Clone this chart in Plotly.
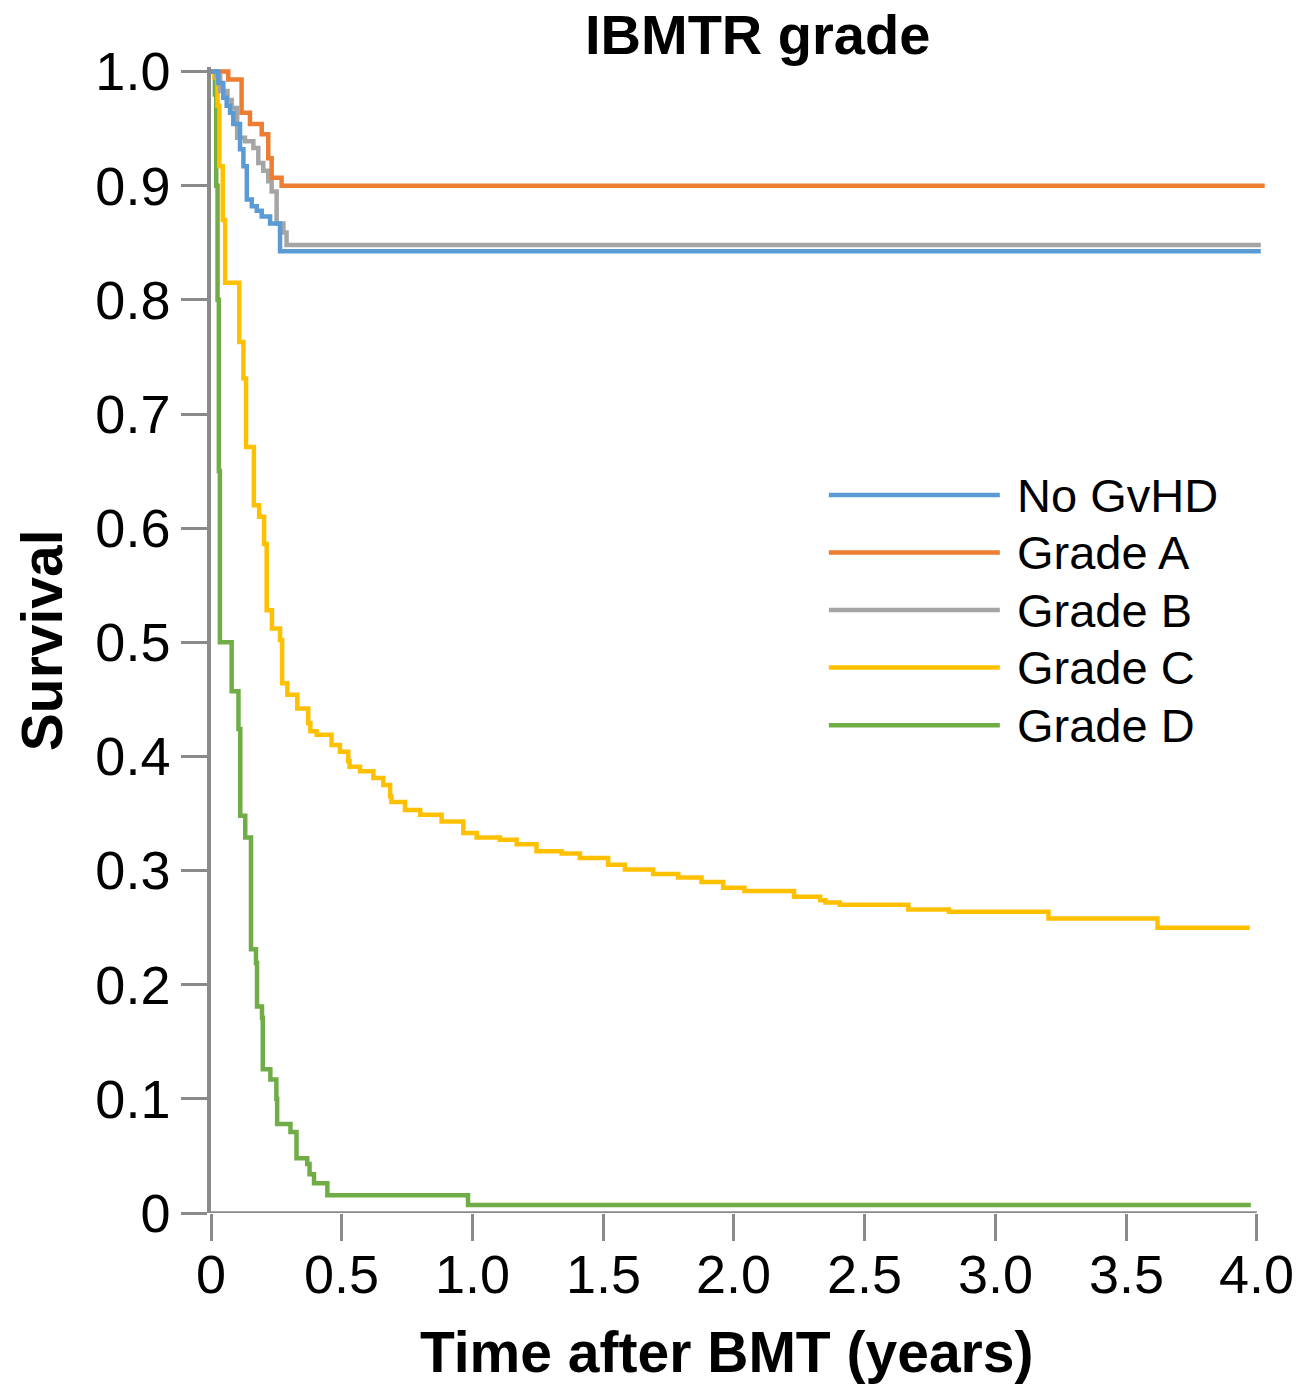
import plotly.graph_objects as go

# Kaplan-Meier step data: time (years) at which each step occurs, survival after the step
names = ["No GvHD", "Grade A", "Grade B", "Grade C", "Grade D"]
colors = ["#5B9BD5", "#ED7D31", "#A5A5A5", "#FFC000", "#70AD47"]

t_none = [0, 0.028, 0.047, 0.060, 0.073, 0.085, 0.111, 0.124, 0.137, 0.156, 0.175, 0.194, 0.226, 0.264, 4.015]
s_none = [1.0, 0.990, 0.977, 0.970, 0.964, 0.954, 0.932, 0.917, 0.888, 0.882, 0.878, 0.873, 0.867, 0.8425, 0.8425]

t_a = [0, 0.066, 0.117, 0.149, 0.194, 0.219, 0.232, 0.270, 4.03]
s_a = [1.0, 0.993, 0.964, 0.954, 0.945, 0.924, 0.907, 0.900, 0.900]

t_b = [0, 0.020, 0.035, 0.063, 0.079, 0.100, 0.130, 0.162, 0.181, 0.200, 0.219, 0.232, 0.251, 0.277, 0.289, 4.015]
s_b = [1.0, 0.996, 0.983, 0.975, 0.968, 0.942, 0.939, 0.933, 0.920, 0.913, 0.904, 0.895, 0.867, 0.859, 0.848, 0.848]

t_c = [0, 0.012, 0.025, 0.032, 0.045, 0.054, 0.108, 0.124, 0.134, 0.164, 0.184, 0.203, 0.213,
       0.233, 0.264, 0.272, 0.292, 0.330, 0.372, 0.380, 0.404, 0.461, 0.493, 0.525, 0.530,
       0.570, 0.621, 0.659, 0.685, 0.690, 0.742, 0.800, 0.882, 0.965, 1.016, 1.105, 1.169,
       1.245, 1.341, 1.411, 1.519, 1.583, 1.691, 1.787, 1.876, 1.959, 2.040, 2.230, 2.330,
       2.350, 2.405, 2.667, 2.822, 3.203, 3.620, 3.973]
s_c = [1.0, 0.995, 0.970, 0.917, 0.870, 0.815, 0.763, 0.731, 0.671, 0.620, 0.610, 0.586, 0.528,
       0.512, 0.502, 0.464, 0.454, 0.442, 0.429, 0.422, 0.419, 0.410, 0.404, 0.396, 0.391,
       0.387, 0.381, 0.375, 0.365, 0.360, 0.353, 0.349, 0.343, 0.333, 0.329, 0.327, 0.323,
       0.317, 0.315, 0.311, 0.305, 0.301, 0.297, 0.294, 0.290, 0.285, 0.282, 0.277, 0.274,
       0.272, 0.270, 0.266, 0.264, 0.258, 0.250, 0.250]

t_d = [0, 0.015, 0.020, 0.025, 0.030, 0.034, 0.079, 0.105, 0.112, 0.131, 0.153, 0.172, 0.176,
       0.195, 0.198, 0.227, 0.250, 0.253, 0.304, 0.327, 0.368, 0.377, 0.394, 0.445, 0.983, 3.977]
s_d = [1.0, 0.980, 0.900, 0.800, 0.650, 0.500, 0.457, 0.424, 0.348, 0.329, 0.231, 0.219, 0.181,
       0.171, 0.126, 0.117, 0.100, 0.078, 0.071, 0.048, 0.043, 0.034, 0.026, 0.0155, 0.007, 0.007]

series_t = [t_none, t_a, t_b, t_c, t_d]
series_s = [s_none, s_a, s_b, s_c, s_d]

x_ticks = [0, 0.5, 1.0, 1.5, 2.0, 2.5, 3.0, 3.5, 4.0]
x_ticktext = ["0", "0.5", "1.0", "1.5", "2.0", "2.5", "3.0", "3.5", "4.0"]
y_ticks = [0, 0.1, 0.2, 0.3, 0.4, 0.5, 0.6, 0.7, 0.8, 0.9, 1.0]
y_ticktext = ["0", "0.1", "0.2", "0.3", "0.4", "0.5", "0.6", "0.7", "0.8", "0.9", "1.0"]

FONT = "Liberation Sans, Arial, sans-serif"
AXIS_COLOR = "#8a8a8a"

fig = go.Figure()
# draw in reverse so that the upper curves sit on top
for name, color, ts, ss in reversed(list(zip(names, colors, series_t, series_s))):
    fig.add_trace(go.Scatter(
        x=ts, y=ss, mode="lines", name=name,
        line=dict(color=color, width=4.5, shape="hv"),
        showlegend=False,
    ))

# hand-drawn legend with long line samples
leg_x0, leg_x1, leg_text_x = 2.363, 3.017, 3.075
leg_y0, leg_dy = 0.629, 0.0504
for i, (name, color) in enumerate(zip(names, colors)):
    yy = leg_y0 - i * leg_dy
    fig.add_shape(type="line", xref="x", yref="y", x0=leg_x0, x1=leg_x1, y0=yy, y1=yy,
                  line=dict(color=color, width=4.5))
    fig.add_annotation(x=leg_text_x, y=yy, xref="x", yref="y", text=name, showarrow=False,
                       xanchor="left", yanchor="middle", font=dict(size=47, color="#000"))

# x axis baseline from 0 to 4.0
fig.add_shape(type="line", xref="x", yref="y", x0=0, x1=4.0, y0=0, y1=0,
              line=dict(color=AXIS_COLOR, width=3.5), layer="below")

# x tick labels placed close under the tick marks
for xv, label in zip(x_ticks, x_ticktext):
    fig.add_annotation(x=xv, y=-0.053, xref="x", yref="paper", text=label, showarrow=False,
                       xanchor="center", yanchor="middle", font=dict(size=54, color="#000"))

fig.add_annotation(x=2.092, y=1.028, xref="x", yref="paper", text="<b>IBMTR grade</b>",
                   showarrow=False, xanchor="center", yanchor="middle",
                   font=dict(size=56, color="#000"))
fig.add_annotation(x=1.97, y=-0.121, xref="x", yref="paper", text="<b>Time after BMT (years)</b>",
                   showarrow=False, xanchor="center", yanchor="middle",
                   font=dict(size=57, color="#000"))
fig.add_annotation(x=-0.160, y=0.5, xref="paper", yref="paper", text="<b>Survival</b>",
                   showarrow=False, xanchor="center", yanchor="middle", textangle=-90,
                   font=dict(size=57, color="#000"))

fig.update_layout(
    width=1306, height=1389,
    margin=dict(l=211, r=40, t=67, b=176),
    paper_bgcolor="white", plot_bgcolor="white",
    font=dict(family=FONT, color="#000"),
    xaxis=dict(range=[0, 4.035], tickvals=x_ticks, showticklabels=False,
               showgrid=False, zeroline=False, showline=False,
               ticks="outside", ticklen=27, tickwidth=3, tickcolor=AXIS_COLOR),
    yaxis=dict(range=[0, 1.004], tickvals=y_ticks, ticktext=y_ticktext,
               showgrid=False, zeroline=False, showline=True, linecolor=AXIS_COLOR, linewidth=3.5,
               ticks="outside", ticklen=26, tickwidth=3, tickcolor=AXIS_COLOR,
               tickfont=dict(size=54, family=FONT, color="#000")),
)

fig.write_html("out.html")
